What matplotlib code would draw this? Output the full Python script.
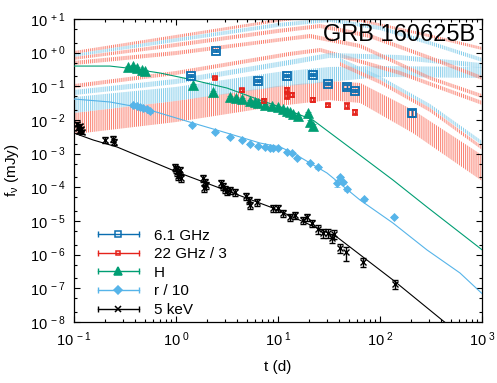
import numpy as np
import matplotlib
matplotlib.use('Agg')
import matplotlib.pyplot as plt
from matplotlib.lines import Line2D
from matplotlib.legend_handler import HandlerLine2D, HandlerTuple
from matplotlib.ticker import FixedLocator, FixedFormatter, NullFormatter

plt.rcParams['font.family'] = ['Liberation Sans', 'DejaVu Sans']
plt.rcParams['mathtext.fontset'] = 'custom'
plt.rcParams['mathtext.rm'] = 'Liberation Sans'
plt.rcParams['mathtext.it'] = 'Liberation Sans:italic'
plt.rcParams['hatch.linewidth'] = 0.72

# ---------------- data ----------------
# 6.1 GHz
t_61 = [1.40, 2.47, 6.37, 12.2, 22.0, 30.9, 47.4, 56.9, 206]
f_61 = [0.203, 1.12, 0.144, 0.20, 0.217, 0.117, 0.095, 0.073, 0.016]
e_61 = [0.012, 0.07, 0.010, 0.012, 0.013, 0.008, 0.012, 0.007, 0.004]
# 22 GHz / 3
t_22 = [2.41, 4.44, 7.29, 12.2, 12.2, 13.7, 22.0, 30.9, 47.4, 56.9]
f_22 = [0.177, 0.078, 0.0367, 0.078, 0.0516, 0.0553, 0.039, 0.0279, 0.026, 0.0173]
e_22 = [0.015, 0.008, 0.004, 0.009, 0.010, 0.006, 0.005, 0.003, 0.005, 0.003]
# H band
t_H = [0.338, 0.379, 0.415, 0.465, 0.497, 1.47, 2.31, 3.38, 3.87, 4.44, 5.31, 5.95,
       6.37, 7.46, 8.7, 10.0, 11.2, 12.2, 13.1, 14.0, 15.7, 19.7, 20.6, 22.0]
f_H = [0.375, 0.40, 0.35, 0.305, 0.285, 0.11, 0.068, 0.048, 0.045, 0.042, 0.037, 0.034,
       0.032, 0.028, 0.026, 0.0243, 0.021, 0.0185, 0.0173, 0.0151, 0.0132, 0.0162, 0.0087, 0.0066]
e_H = [0.03, 0.03, 0.03, 0.02, 0.02, 0.008, 0.005, 0.003, 0.003, 0.003, 0.003, 0.003,
       0.002, 0.002, 0.002, 0.002, 0.002, 0.0015, 0.0015, 0.0015, 0.0012, 0.0015, 0.0012, 0.0012]
# r / 10
t_r = [0.378, 0.414, 0.443, 0.474, 0.52, 0.556, 1.44, 2.41, 3.38, 4.44, 5.31, 6.37, 7.46,
       8.36, 8.9, 10.0, 12.2, 13.7, 15.3, 20.6, 24.7, 37.8, 40.5, 43.4, 47.4, 69.7, 137]
f_r = [0.0279, 0.026, 0.0243, 0.0227, 0.0212, 0.0185, 7.1e-3, 4.4e-3, 3.13e-3, 2.55e-3,
       1.94e-3, 1.69e-3, 1.58e-3, 1.52e-3, 1.48e-3, 1.48e-3, 1.12e-3, 1.05e-3, 7.4e-4,
       5.3e-4, 4.0e-4, 1.35e-4, 2.03e-4, 1.44e-4, 8.9e-5, 4.5e-5, 1.32e-5]
e_r = [0.1, 0.1, 0.1, 0.1, 0.1, 0.1, 0.08, 0.08, 0.08, 0.08, 0.08, 0.08, 0.08,
       0.08, 0.08, 0.08, 0.08, 0.08, 0.08, 0.1, 0.1, 0.25, 0.1, 0.1, 0.1, 0.1, 0.1]
# 5 keV
t_x = [0.107, 0.109, 0.112, 0.114, 0.117, 0.120, 0.201, 0.241, 0.247, 0.977, 1.0, 1.02,
       1.047, 1.07, 1.10, 1.12, 1.84, 1.88, 1.92, 1.97, 2.76, 2.89, 3.02, 3.16, 3.38, 3.78,
       4.85, 5.2, 5.3, 6.2, 8.9, 10.0, 11.2, 13.1, 14.7, 17.6, 19.2, 21.5, 24.7, 27.6,
       30.9, 33.8, 35.4, 40.5, 46.5, 68.1, 140]
f_x = [7.6e-3, 5.8e-3, 4.7e-3, 6.6e-3, 5.4e-3, 4.4e-3, 2.55e-3, 2.73e-3, 2.22e-3, 4.0e-4,
       3.5e-4, 2.86e-4, 2.17e-4, 2.49e-4, 3.27e-4, 1.9e-4, 1.9e-4, 9.6e-5, 1.44e-4, 1.17e-4,
       1.35e-4, 1.1e-4, 8.9e-5, 7.8e-5, 8.3e-5, 7.3e-5, 5.5e-5, 4.2e-5, 3.0e-5, 3.7e-5,
       2.44e-5, 2.44e-5, 1.73e-5, 1.32e-5, 1.5e-5, 1.07e-5, 1.32e-5, 8.7e-6, 5.8e-6, 4.4e-6,
       4.4e-6, 3.1e-6, 4.1e-6, 1.58e-6, 1.2e-6, 6.1e-7, 1.35e-7]
e_x = [0.12, 0.12, 0.12, 0.12, 0.12, 0.12, 0.2, 0.2, 0.2, 0.25, 0.25, 0.25,
       0.25, 0.25, 0.25, 0.25, 0.25, 0.25, 0.25, 0.25, 0.25, 0.25, 0.25, 0.25, 0.25, 0.25,
       0.25, 0.25, 0.25, 0.25, 0.25, 0.25, 0.25, 0.25, 0.25, 0.25, 0.25, 0.25, 0.3, 0.3,
       0.3, 0.3, 0.3, 0.3, 0.45, 0.3, 0.3]

# model curves
tm_x = [0.1, 0.154, 0.264, 1.02, 8.9, 37.8, 134, 405, 1000]
fm_x = [4.1e-3, 2.55e-3, 1.58e-3, 2.86e-4, 2.44e-5, 3.35e-6, 1.77e-7, 1.15e-8, 1.3e-9]
tm_H = [0.1, 0.225, 0.331, 0.697, 1.47, 3.16, 6.67, 10.5, 22, 54.3, 134, 289, 1000]
fm_H = [0.40, 0.40, 0.35, 0.249, 0.154, 0.089, 0.039, 0.0243, 0.010, 1.29e-3, 1.65e-4,
        2.6e-5, 1.4e-6]
tm_r = [0.1, 0.225, 0.474, 0.697, 1.47, 3.16, 6.67, 10.5, 14.0, 30.2, 63.7, 134, 289, 608, 1000]
fm_r = [0.042, 0.0343, 0.0227, 0.016, 8.1e-3, 4.1e-3, 2.07e-3, 1.58e-3, 1.05e-3, 2.67e-4,
        4.2e-5, 8.7e-6, 1.38e-6, 2.86e-7, 7.0e-8]

# model bands (t, lower, upper)
bw_red_t = [0.1, 1, 10, 32, 64, 210, 1000]
bw_red_lo = [0.0038, 0.0087, 0.026, 0.039, 0.032, 0.0041, 1.55e-4]
bw_red_hi = [0.0162, 0.037, 0.103, 0.144, 0.126, 0.0199, 9.1e-4]
bw_blue_t = [0.1, 1, 10, 32, 100, 1000]
bw_blue_lo = [0.0162, 0.037, 0.096, 0.135, 0.19, 0.177]
bw_blue_hi = [0.048, 0.096, 0.267, 0.376, 0.40, 0.376]
b2_red_t = [0.1, 1, 13, 26, 157, 1000]
b2_red_lo = [0.089, 0.218, 0.80, 1.05, 0.218, 0.028]
b2_red_hi = [0.117, 0.286, 1.05, 1.38, 0.286, 0.037]
b2_blue_t = [0.1, 1, 13, 32, 157, 1000]
b2_blue_lo = [0.055, 0.117, 0.43, 0.70, 0.61, 0.35]
b2_blue_hi = [0.078, 0.166, 0.61, 0.98, 0.85, 0.49]
ba_red_t = [0.1, 1, 10, 25.8, 63.7, 246, 1000]
ba_red_lo = [0.91, 2.7, 8.2, 11.5, 8.2, 3.36, 1.2]
ba_red_hi = [1.12, 3.36, 10.0, 14.1, 10.0, 4.1, 1.48]
ba_blue_t = [0.1, 1, 10, 32.3, 100, 309, 1000]
ba_blue_lo = [0.745, 2.1, 5.8, 8.2, 4.7, 1.69, 0.53]
ba_blue_hi = [0.91, 2.7, 7.6, 10.7, 6.2, 2.2, 0.70]
bb_red_t = [0.1, 1, 10, 25.8, 79.9, 309, 1000]
bb_red_lo = [0.61, 1.48, 3.85, 5.4, 2.7, 0.61, 0.155]
bb_red_hi = [0.745, 1.94, 5.06, 7.1, 3.6, 0.80, 0.203]
bc_red_t = [0.1, 1, 10, 20.6, 63.7, 309, 1000]
bc_red_lo = [0.43, 0.85, 2.1, 2.7, 1.38, 0.155, 0.045]
bc_red_hi = [0.57, 1.12, 2.7, 3.6, 1.81, 0.20, 0.059]
b3_blue_t = [40.5, 100, 309, 1000]
b3_blue_lo = [0.53, 0.155, 0.0228, 0.0018]
b3_blue_hi = [0.70, 0.203, 0.030, 0.0024]
b3_red_t = [40.5, 100, 309, 1000]
b3_red_lo = [0.40, 0.117, 0.0173, 0.0013]
b3_red_hi = [0.53, 0.155, 0.0228, 0.0017]

# ---------------- style ----------------
C61 = '#0a6db0'
C22 = '#e5231b'
CH = '#009e73'
CR = '#56b4e9'
CX = 'black'
BRED = '#fa8070'
BBLUE = '#87ceeb'

fig = plt.figure(figsize=(4.97, 3.83), dpi=100)
ax = fig.add_axes([74/497, 1-322/383, 408/497, 303/383])
ax.set_xscale('log')
ax.set_yscale('log')
ax.set_xlim(0.1, 1000)
ax.set_ylim(1e-8, 10)

bands = [
    (bw_red_t, bw_red_lo, bw_red_hi, BRED),
    (bw_blue_t, bw_blue_lo, bw_blue_hi, BBLUE),
    (b2_red_t, b2_red_lo, b2_red_hi, BRED),
    (b2_blue_t, b2_blue_lo, b2_blue_hi, BBLUE),
    (ba_red_t, ba_red_lo, ba_red_hi, BRED),
    (ba_blue_t, ba_blue_lo, ba_blue_hi, BBLUE),
    (bb_red_t, bb_red_lo, bb_red_hi, BRED),
    (bc_red_t, bc_red_lo, bc_red_hi, BRED),
    (b3_blue_t, b3_blue_lo, b3_blue_hi, BBLUE),
    (b3_red_t, b3_red_lo, b3_red_hi, BRED),
]
for bt, blo, bhi, bc in bands:
    ax.fill_between(bt, blo, bhi, facecolor='none', edgecolor=bc, linewidth=0,
                    hatch='|' * 8, antialiased=False, zorder=1)

ax.plot(tm_x, fm_x, color=CX, lw=0.8, zorder=3)
ax.plot(tm_H, fm_H, color=CH, lw=0.8, zorder=3)
ax.plot(tm_r, fm_r, color=CR, lw=0.8, zorder=3)

ekw = dict(linestyle='none', capsize=2.2, elinewidth=1.0, capthick=1.0, zorder=5)
ax.errorbar(t_x, f_x, yerr=np.array(e_x) * np.array(f_x), color=CX, marker='x', ms=5,
            mew=1.0, **ekw)
ax.errorbar(t_r, f_r, yerr=np.array(e_r) * np.array(f_r), color=CR, marker='D', ms=4.5,
            mew=0.5, **ekw)
ax.errorbar(t_H, f_H, yerr=e_H, color=CH, marker='^', ms=6.5, mew=0.5, **ekw)
ax.errorbar(t_22, f_22, yerr=e_22, color=C22, marker='s', ms=3.5, mfc='none', mew=1.2, **ekw)
ax.errorbar(t_61, f_61, yerr=e_61, color=C61, marker='s', ms=6, mfc='none', mew=1.3, **ekw)

# ticks
xmaj = [0.1, 1, 10, 100, 1000]
xlab = [r'$\mathregular{10^{\ -1}}$', r'$\mathregular{10^{\ 0}}$', r'$\mathregular{10^{\ 1}}$',
        r'$\mathregular{10^{\ 2}}$', r'$\mathregular{10^{\ 3}}$']
ymaj = [10.0 ** k for k in range(-8, 2)]
ylab = [r'$\mathregular{10^{\ -%d}}$' % (-k) if k < 0 else r'$\mathregular{10^{\ +%d}}$' % k
        for k in range(-8, 2)]
ax.xaxis.set_major_locator(FixedLocator(xmaj))
ax.xaxis.set_major_formatter(FixedFormatter(xlab))
ax.xaxis.set_minor_locator(FixedLocator([m * 10.0 ** k for k in range(-1, 3) for m in range(2, 10)]))
ax.xaxis.set_minor_formatter(NullFormatter())
ax.yaxis.set_major_locator(FixedLocator(ymaj))
ax.yaxis.set_major_formatter(FixedFormatter(ylab))
ax.yaxis.set_minor_locator(FixedLocator([m * 10.0 ** k for k in range(-8, 1) for m in (2, 5)]))
ax.yaxis.set_minor_formatter(NullFormatter())
ax.tick_params(which='both', direction='in', top=True, right=True, width=0.8, labelsize=10.5)
ax.tick_params(which='major', length=4.5)
ax.tick_params(which='minor', length=2.3)
ax.tick_params(axis='x', pad=6)
ax.tick_params(axis='y', pad=6)
for s in ax.spines.values():
    s.set_linewidth(0.9)

ax.set_xlabel('t (d)', fontsize=11, labelpad=8)
ax.set_ylabel(r'f$_{\mathregular{ν}}$ (mJy)', fontsize=11, labelpad=6)

ax.text(0.983, 0.982, 'GRB 160625B', transform=ax.transAxes, ha='right', va='top',
        fontsize=17, zorder=6)

# legend
labels = ['6.1 GHz', '22 GHz / 3', 'H', 'r / 10', '5 keV']
specs = [(C61, 's', 5, 'none'), (C22, 's', 3.5, 'none'), (CH, '^', 6, CH), (CR, 'D', 4, CR),
         (CX, 'x', 5, CX)]
handles = []
hmap = {}
for (c, m, ms, mfc) in specs:
    cap = Line2D([], [], color=c, lw=1.0, marker='|', ms=5, mew=1.0)
    mk = Line2D([], [], color=c, lw=0, marker=m, ms=ms, mfc=mfc, mew=1.1)
    hmap[cap] = HandlerLine2D(numpoints=2)
    hmap[mk] = HandlerLine2D(numpoints=1)
    h = (cap, mk)
    hmap[h] = HandlerTuple(ndivide=1, pad=0)
    handles.append(h)
leg = ax.legend(handles, labels, handler_map=hmap, loc='lower left',
                bbox_to_anchor=(19/408, 5/303), frameon=False, fontsize=11,
                handlelength=3.3, handletextpad=0.7, labelspacing=0.3, borderpad=0,
                borderaxespad=0)
leg.set_zorder(7)

fig.savefig('out.png', dpi=100)
